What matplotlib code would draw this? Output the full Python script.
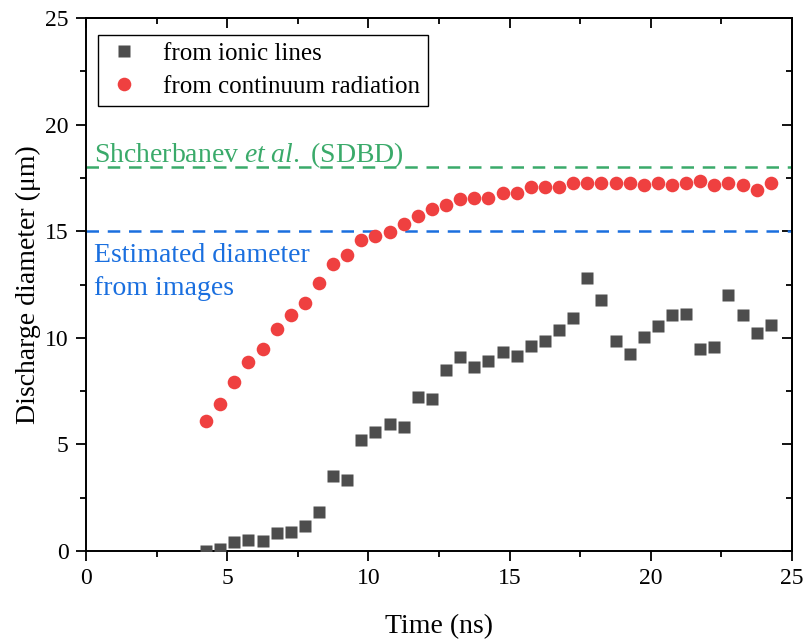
import matplotlib
matplotlib.use("Agg")
import matplotlib.pyplot as plt
from matplotlib.ticker import MultipleLocator

plt.rcParams['font.family'] = ['Liberation Serif', 'DejaVu Serif']
plt.rcParams['mathtext.fontset'] = 'custom'
plt.rcParams['mathtext.rm'] = 'Liberation Serif'
plt.rcParams['mathtext.it'] = 'Liberation Serif:italic'

time_ns = [4.25, 4.75, 5.25, 5.75, 6.25, 6.75, 7.25, 7.75, 8.25, 8.75,
           9.25, 9.75, 10.25, 10.75, 11.25, 11.75, 12.25, 12.75, 13.25, 13.75,
           14.25, 14.75, 15.25, 15.75, 16.25, 16.75, 17.25, 17.75, 18.25, 18.75,
           19.25, 19.75, 20.25, 20.75, 21.25, 21.75, 22.25, 22.75, 23.25, 23.75,
           24.25]

ionic_lines = [0.01, 0.11, 0.42, 0.53, 0.48, 0.86, 0.91, 1.19, 1.84, 3.53,
               3.34, 5.22, 5.59, 5.97, 5.83, 7.23, 7.13, 8.49, 9.11, 8.64,
               8.92, 9.34, 9.16, 9.60, 9.86, 10.38, 10.94, 12.81, 11.78, 9.86,
               9.25, 10.05, 10.56, 11.08, 11.13, 9.48, 9.58, 12.02, 11.08, 10.24,
               10.61]

continuum = [6.11, 6.91, 7.92, 8.85, 9.48, 10.39, 11.08, 11.64, 12.58, 13.45,
             13.89, 14.61, 14.78, 14.94, 15.33, 15.71, 16.03, 16.24, 16.52, 16.55,
             16.55, 16.80, 16.80, 17.07, 17.07, 17.07, 17.28, 17.28, 17.25, 17.28,
             17.28, 17.16, 17.25, 17.16, 17.25, 17.35, 17.16, 17.28, 17.19, 16.92,
             17.28]

shcherbanev_level = 18.0
image_level = 15.0

fig = plt.figure(figsize=(8.06, 6.42), dpi=100)
ax = fig.add_axes([86/806, (642-551)/642, (792-86)/806, (551-18)/642])

ax.axhline(shcherbanev_level, color='#3aaa6a', lw=1.8, ls=(0, (5, 3.5)), zorder=1)
ax.axhline(image_level, color='#1a6fdf', lw=1.8, ls=(0, (5, 3.5)), zorder=1)

ax.plot(time_ns, ionic_lines, ls='none', marker='s', ms=8.6, color='#4d4d4d',
        mec='none', label='from ionic lines', zorder=3)
ax.plot(time_ns, continuum, ls='none', marker='o', ms=9.8, color='#ef4040',
        mec='none', label='from continuum radiation', zorder=3)

ax.text(0.27, 18.25, r'Shcherbanev $\mathit{et\ al.}$ (SDBD)', color='#3aaa6a',
        fontsize=20, ha='left', va='baseline')
ax.text(0.27, 13.55, 'Estimated diameter', color='#1a6fdf',
        fontsize=20, ha='left', va='baseline')
ax.text(0.27, 12.0, 'from images', color='#1a6fdf',
        fontsize=20, ha='left', va='baseline')

ax.set_xlim(0, 25)
ax.set_ylim(0, 25)
ax.xaxis.set_major_locator(MultipleLocator(5))
ax.xaxis.set_minor_locator(MultipleLocator(2.5))
ax.yaxis.set_major_locator(MultipleLocator(5))
ax.yaxis.set_minor_locator(MultipleLocator(2.5))

ax.tick_params(which='both', direction='out', top=False, right=False,
               labelsize=17, width=1.3)
ax.tick_params(which='major', length=7.5, pad=5)
ax.tick_params(which='minor', length=4)
for s in ax.spines.values():
    s.set_linewidth(1.4)

# mirrored inward ticks on top/right
ax2 = ax.secondary_xaxis('top')
ax2.xaxis.set_major_locator(MultipleLocator(5))
ax2.xaxis.set_minor_locator(MultipleLocator(2.5))
ax2.tick_params(which='both', direction='in', labeltop=False, width=1.3)
ax2.tick_params(which='major', length=7.5)
ax2.tick_params(which='minor', length=4)
ax3 = ax.secondary_yaxis('right')
ax3.yaxis.set_major_locator(MultipleLocator(5))
ax3.yaxis.set_minor_locator(MultipleLocator(2.5))
ax3.tick_params(which='both', direction='in', labelright=False, width=1.3)
ax3.tick_params(which='major', length=7.5)
ax3.tick_params(which='minor', length=4)
for a in (ax2, ax3):
    for s in a.spines.values():
        s.set_linewidth(1.4)

ax.set_xlabel('Time (ns)', fontsize=20, labelpad=18)
ax.set_ylabel('Discharge diameter (μm)', fontsize=20, labelpad=3)

leg = ax.legend(loc='upper left', bbox_to_anchor=(0.017, 0.968), fontsize=18,
                frameon=True, fancybox=False, edgecolor='black', framealpha=1,
                handletextpad=0.8, borderpad=0.3, labelspacing=0.42,
                handlelength=1.5, borderaxespad=0)
leg.get_frame().set_linewidth(1.0)

fig.savefig('out.png', dpi=100)
